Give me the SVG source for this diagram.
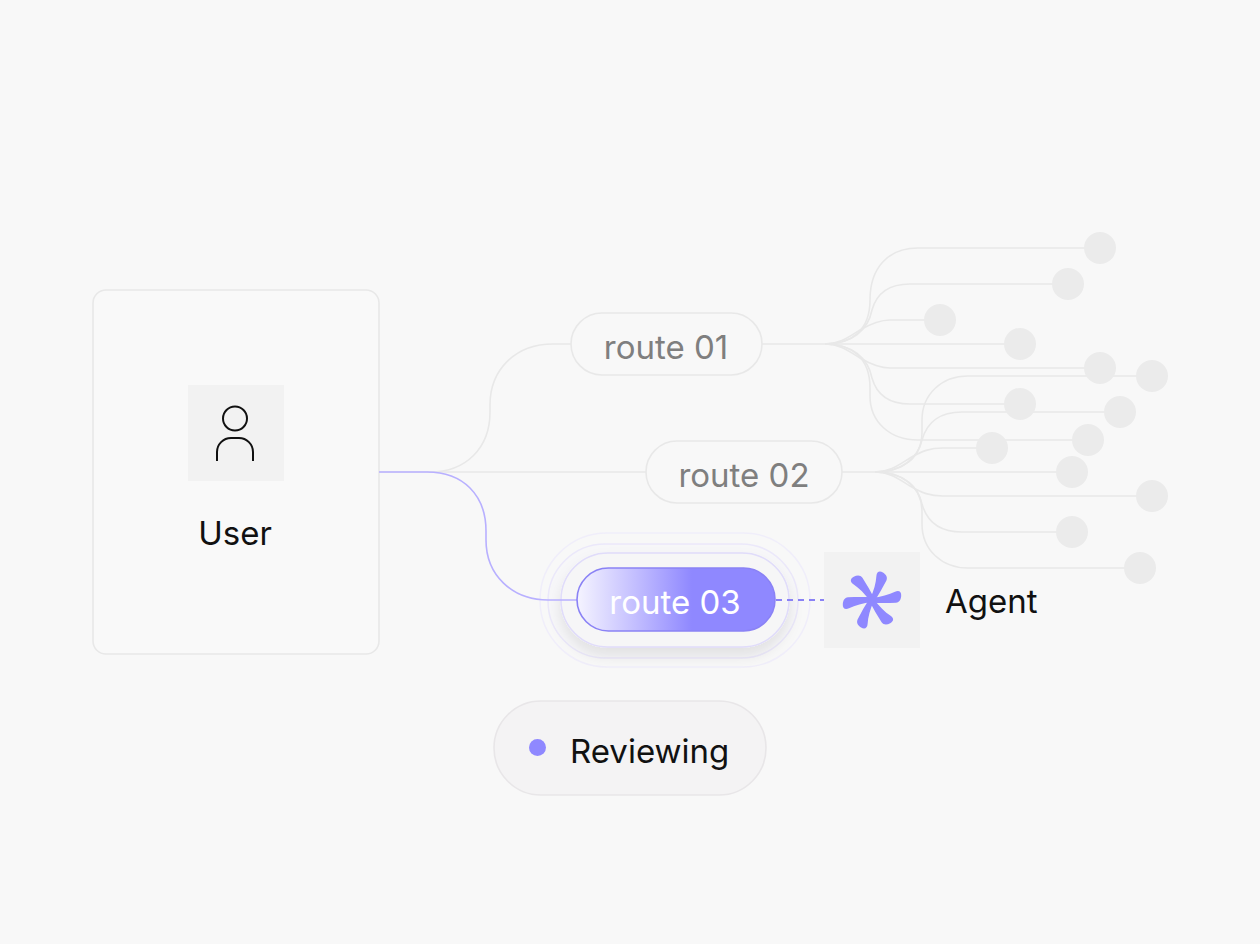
<svg xmlns="http://www.w3.org/2000/svg" width="1260" height="944" viewBox="0 0 1260 944">
<defs>
<style>
.lbl{font-family:Inter,"Noto Sans","Liberation Sans",sans-serif;font-size:33px}
.dark{fill:#111111}
.grey{fill:#7f7f7f}
.tree{fill:none;stroke:#e8e8e8;stroke-width:1.6}
.leaf{fill:#ebebeb}
.pill{fill:#f8f8f8;stroke:#e8e8e8;stroke-width:1.6}
</style>
<linearGradient id="g3" x1="0" y1="0" x2="1" y2="0">
<stop offset="0" stop-color="#f5f4ff"/>
<stop offset="0.3" stop-color="#c2bdff"/>
<stop offset="0.58" stop-color="#8f88ff"/>
<stop offset="1" stop-color="#8f88ff"/>
</linearGradient>
<filter id="sh" x="-30%" y="-40%" width="160%" height="200%">
<feDropShadow dx="0" dy="8" stdDeviation="7" flood-color="#000" flood-opacity="0.09"/>
</filter>
<path id="petal" d="M0 -2.2 C9 -3 17 -5.2 23 -8.2 C27 -10.2 29.5 -8 29.2 -4.2 C29 -0.5 27.5 2.4 24 2.8 C16 3.2 8 3.2 0 2.8 Z"/>
</defs>
<rect width="1260" height="944" fill="#f8f8f8"/>

<g id="user">
<rect x="93" y="290" width="286" height="364" rx="13" fill="#f9f9f9" stroke="#e8e8e8" stroke-width="1.6"/>
<rect x="188" y="385" width="96" height="96" fill="#f2f2f2"/>
<circle cx="235" cy="418.5" r="12" fill="none" stroke="#111" stroke-width="2"/>
<path d="M217 461 V452 A14 14 0 0 1 231 438 H239 A14 14 0 0 1 253 452 V461" fill="none" stroke="#111" stroke-width="2"/>
<text class="lbl dark" x="235" y="545" text-anchor="middle">User</text>
</g>

<g id="route01">
<rect class="pill" x="571" y="313" width="191" height="62" rx="31"/>
<text class="lbl grey" x="666" y="359" text-anchor="middle">route 01</text>
</g>

<g id="route02">
<rect class="pill" x="646" y="441" width="196" height="62" rx="31"/>
<text class="lbl grey" x="744" y="487" text-anchor="middle">route 02</text>
</g>

<g id="route03-halo">
<rect x="540" y="533" width="270" height="134" rx="67" fill="none" stroke="#f0eefa" stroke-width="1.5"/>
<rect x="548" y="544" width="250" height="114" rx="57" fill="#f7f7f9" stroke="#ebe8fa" stroke-width="1.5"/>
<rect x="561" y="553" width="228" height="94" rx="47" fill="#f6f6f7" stroke="#e0dcfa" stroke-width="1.5" filter="url(#sh)"/>
</g>

<g id="connectors">
<path class="tree" d="M379 472 H646"/>
<path class="tree" d="M430 472 C466 472 490 448 490 412 V405 C490 370 515 344 553 344 H571"/>
<path d="M379 472 H427 C463 472 486 495 486 531 V540 C486 575 512 600 548 600 H577" fill="none" stroke="#b8b0ff" stroke-width="1.6"/>
<path d="M776 600 H824" fill="none" stroke="#8a82f5" stroke-width="1.8" stroke-dasharray="6 5"/>
<path class="tree" d="M762 344 H1020"/>
<path class="tree" d="M825 344 C852 344 870 330 870 300 C870 268 888 248 918 248 H1100"/>
<path class="tree" d="M825 344 C852 344 868 330 872 310 C877 292 890 284 910 284 H1068"/>
<path class="tree" d="M825 344 C840 344 850 336 860 330 C872 323 880 320 890 320 H940"/>
<path class="tree" d="M825 344 C840 344 850 352 860 358 C872 365 880 368 890 368 H1100"/>
<path class="tree" d="M825 344 C852 344 868 358 872 378 C877 396 890 404 910 404 H1020"/>
<path class="tree" d="M825 344 C852 344 870 358 870 388 V396 C870 422 890 440 918 440 H1088"/>
<path class="tree" d="M842 472 H1072"/>
<path class="tree" d="M875 472 C903 472 922 458 922 432 V420 C922 394 942 376 968 376 H1152"/>
<path class="tree" d="M875 472 C902 472 918 458 922 440 C927 422 940 412 962 412 H1120"/>
<path class="tree" d="M875 472 C890 472 900 464 910 458 C922 451 930 448 943 448 H992"/>
<path class="tree" d="M875 472 C890 472 900 480 910 486 C922 493 930 496 943 496 H1152"/>
<path class="tree" d="M875 472 C902 472 918 486 922 504 C927 522 940 532 962 532 H1072"/>
<path class="tree" d="M875 472 C903 472 922 486 922 512 V524 C922 550 942 568 968 568 H1140"/>
</g>

<g id="leaves">
<circle class="leaf" cx="1100" cy="248" r="16"/>
<circle class="leaf" cx="1068" cy="284" r="16"/>
<circle class="leaf" cx="940" cy="320" r="16"/>
<circle class="leaf" cx="1020" cy="344" r="16"/>
<circle class="leaf" cx="1100" cy="368" r="16"/>
<circle class="leaf" cx="1152" cy="376" r="16"/>
<circle class="leaf" cx="1020" cy="404" r="16"/>
<circle class="leaf" cx="1120" cy="412" r="16"/>
<circle class="leaf" cx="1088" cy="440" r="16"/>
<circle class="leaf" cx="992" cy="448" r="16"/>
<circle class="leaf" cx="1072" cy="472" r="16"/>
<circle class="leaf" cx="1152" cy="496" r="16"/>
<circle class="leaf" cx="1072" cy="532" r="16"/>
<circle class="leaf" cx="1140" cy="568" r="16"/>
</g>

<g id="route03">
<rect x="577" y="568" width="198" height="63" rx="31.5" fill="url(#g3)" stroke="#8a82f5" stroke-width="1.6"/>
<text class="lbl" x="675" y="614" text-anchor="middle" fill="#ffffff">route 03</text>
</g>

<g id="agent">
<rect x="824" y="552" width="96" height="96" fill="#f2f2f2"/>
<g fill="#8f88ff" transform="translate(872 600)">
<use href="#petal" transform="rotate(0)"/>
<use href="#petal" transform="rotate(60)"/>
<use href="#petal" transform="rotate(120)"/>
<use href="#petal" transform="rotate(180)"/>
<use href="#petal" transform="rotate(240)"/>
<use href="#petal" transform="rotate(300)"/>
</g>
<text class="lbl dark" x="945" y="613">Agent</text>
</g>

<g id="reviewing">
<rect x="494" y="701" width="272" height="94" rx="47" fill="#f4f3f4" stroke="#e8e6e8" stroke-width="1.6"/>
<circle cx="537.5" cy="747.5" r="8.5" fill="#8f88ff"/>
<text class="lbl dark" x="570" y="763">Reviewing</text>
</g>
</svg>
